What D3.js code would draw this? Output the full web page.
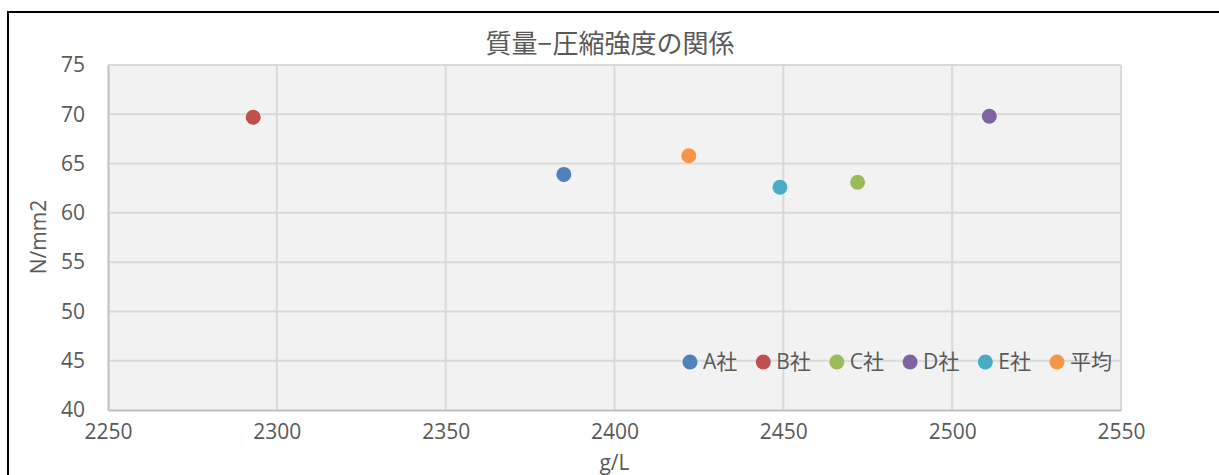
<!DOCTYPE html>
<html>
<head>
<meta charset="utf-8">
<script src="https://cdn.jsdelivr.net/npm/d3@7"></script>
<style>
  html, body { margin: 0; padding: 0; background: #fff; }
  svg { display: block; }
  text { font-family: "Open Sans", "Noto Sans CJK JP", sans-serif; fill: #595959; }
</style>
</head>
<body>
<svg id="chart" width="1219" height="475"></svg>
<script>
// Companies and the average, with density (g/L) and compressive strength (N/mm2)
const seriesNames = ["A社", "B社", "C社", "D社", "E社", "平均"];
const massValues = [2385, 2293, 2472, 2511, 2449, 2422];
const strengthValues = [63.9, 69.7, 63.1, 69.8, 62.6, 65.8];
const seriesColors = ["#4f81bd", "#c0504d", "#9bbb59", "#8064a2", "#4bacc6", "#f79646"];
const xTicks = [2250, 2300, 2350, 2400, 2450, 2500, 2550];
const yTicks = [40, 45, 50, 55, 60, 65, 70, 75];

const svg = d3.select("#chart");
const W = 1219, H = 475;
const plot = { left: 108, top: 65, right: 1121, bottom: 410 };

// outer frame
svg.append("rect")
  .attr("x", 8).attr("y", 12)
  .attr("width", W + 20).attr("height", H + 20)
  .attr("fill", "#fff").attr("stroke", "#000").attr("stroke-width", 2);

const x = d3.scaleLinear().domain([2250, 2550]).range([plot.left, plot.right]);
const y = d3.scaleLinear().domain([40, 75]).range([plot.bottom, plot.top]);

// plot background
svg.append("rect")
  .attr("x", plot.left).attr("y", plot.top)
  .attr("width", plot.right - plot.left).attr("height", plot.bottom - plot.top)
  .attr("fill", "#f2f2f2");

// gridlines
const grid = svg.append("g").attr("stroke", "#d9d9d9").attr("stroke-width", 2);
grid.selectAll("line.h").data(yTicks.filter(v => v !== 40)).join("line")
  .attr("x1", plot.left).attr("x2", plot.right)
  .attr("y1", d => y(d)).attr("y2", d => y(d));
grid.selectAll("line.v").data(xTicks.filter(v => v !== 2250)).join("line")
  .attr("y1", plot.top).attr("y2", plot.bottom)
  .attr("x1", d => x(d)).attr("x2", d => x(d));

// axes
const xAxis = svg.append("g")
  .attr("transform", `translate(0,${plot.bottom})`)
  .call(d3.axisBottom(x).tickValues(xTicks).tickSize(0).tickPadding(14).tickFormat(d3.format("d")));
const yAxis = svg.append("g")
  .attr("transform", `translate(${plot.left},0)`)
  .call(d3.axisLeft(y).tickValues(yTicks).tickSize(0).tickPadding(23).tickFormat(d3.format("d")));
[xAxis, yAxis].forEach(a => {
  a.select(".domain").attr("stroke", "#bfbfbf").attr("stroke-width", 2);
  a.selectAll("text").attr("font-size", 21).attr("font-family", "'Open Sans', sans-serif").attr("fill", "#595959");
});

// points
const pts = seriesNames.map((n, i) => ({ name: n, x: massValues[i], y: strengthValues[i], color: seriesColors[i] }));
svg.append("g").selectAll("circle").data(pts).join("circle")
  .attr("cx", d => x(d.x)).attr("cy", d => y(d.y))
  .attr("r", 7.5).attr("fill", d => d.color);

// title
svg.append("text")
  .attr("x", 610).attr("y", 53)
  .attr("text-anchor", "middle")
  .attr("font-size", 26)
  .attr("font-family", "'Noto Sans CJK JP', sans-serif")
  .text("質量−圧縮強度の関係");

// axis titles
svg.append("text")
  .attr("transform", "translate(46,237) rotate(-90)")
  .attr("text-anchor", "middle")
  .attr("font-size", 21)
  .text("N/mm2");
svg.append("text")
  .attr("x", (plot.left + plot.right) / 2).attr("y", 470)
  .attr("text-anchor", "middle")
  .attr("font-size", 21)
  .text("g/L");

// legend
const legend = svg.append("g").attr("transform", "translate(690,362)");
let cursor = 0;
pts.forEach(d => {
  const g = legend.append("g").attr("transform", `translate(${cursor},0)`);
  g.append("circle").attr("r", 7.5).attr("fill", d.color);
  const t = g.append("text")
    .attr("x", 13).attr("dy", "0.35em")
    .attr("font-size", 21)
    .attr("font-family", "'Open Sans', 'Noto Sans CJK JP', sans-serif")
    .text(d.name);
  cursor += 13 + t.node().getComputedTextLength() + 26;
});
</script>
</body>
</html>
